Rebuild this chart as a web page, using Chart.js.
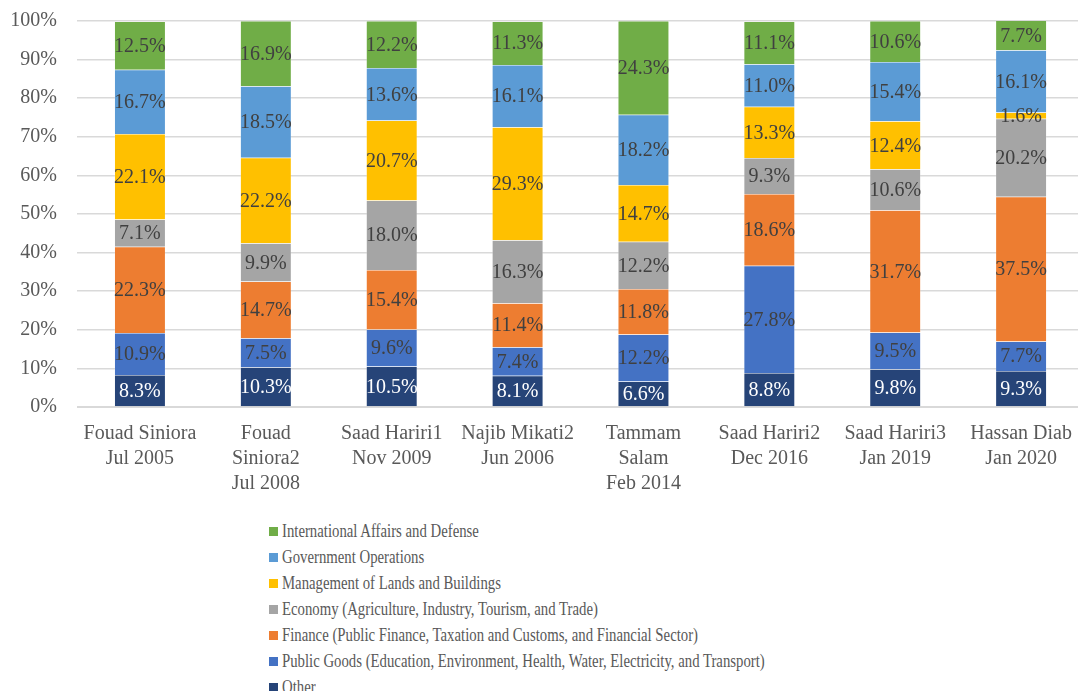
<!DOCTYPE html>
<html>
<head>
<meta charset="utf-8">
<script src="https://cdn.jsdelivr.net/npm/chart.js@4.4.0/dist/chart.umd.min.js"></script>
<style>
  body { margin: 0; background: #fff; overflow: hidden; }
  #wrap { position: relative; width: 1086px; height: 500px; margin-top: -11px; }
  #legend {
    position: absolute; left: 269px; top: 518px;
    font-family: "Liberation Serif", "Times New Roman", serif;
    color: #595959; font-size: 18px;
  }
  #legend .row { height: 26px; display: flex; align-items: center; white-space: nowrap; }
  #legend .box { width: 9px; height: 9px; margin-right: 4px; flex: none; }
  #legend .txt { display: inline-block; transform: scaleX(0.82); transform-origin: left center; }
</style>
</head>
<body>
<div id="wrap"><canvas id="chart" width="1086" height="500"></canvas></div>
<div id="legend"></div>
<script>
const categories = [
  ["Fouad Siniora", "Jul 2005"],
  ["Fouad", "Siniora2", "Jul 2008"],
  ["Saad Hariri1", "Nov 2009"],
  ["Najib Mikati2", "Jun 2006"],
  ["Tammam", "Salam", "Feb 2014"],
  ["Saad Hariri2", "Dec 2016"],
  ["Saad Hariri3", "Jan 2019"],
  ["Hassan Diab", "Jan 2020"]
];

// shares per cabinet, bottom of the stack first
const other         = [8.3, 10.3, 10.5, 8.1, 6.6, 8.8, 9.8, 9.3];
const publicGoods   = [10.9, 7.5, 9.6, 7.4, 12.2, 27.8, 9.5, 7.7];
const finance       = [22.3, 14.7, 15.4, 11.4, 11.8, 18.6, 31.7, 37.5];
const economy       = [7.1, 9.9, 18.0, 16.3, 12.2, 9.3, 10.6, 20.2];
const landsBuildings = [22.1, 22.2, 20.7, 29.3, 14.7, 13.3, 12.4, 1.6];
const govOperations = [16.7, 18.5, 13.6, 16.1, 18.2, 11.0, 15.4, 16.1];
const intlAffairs   = [12.5, 16.9, 12.2, 11.3, 24.3, 11.1, 10.6, 7.7];

const yTicks = [0, 10, 20, 30, 40, 50, 60, 70, 80, 90, 100];

const FONT = '"Liberation Serif", "Times New Roman", serif';

const series = [
  { label: "Other", data: other, color: "#264478", text: "#ffffff" },
  { label: "Public Goods (Education, Environment, Health, Water, Electricity, and Transport)", data: publicGoods, color: "#4472C4", text: "#404040" },
  { label: "Finance (Public Finance, Taxation and Customs, and Financial Sector)", data: finance, color: "#ED7D31", text: "#404040" },
  { label: "Economy (Agriculture, Industry, Tourism, and Trade)", data: economy, color: "#A5A5A5", text: "#404040" },
  { label: "Management of Lands and Buildings", data: landsBuildings, color: "#FFC000", text: "#404040" },
  { label: "Government Operations", data: govOperations, color: "#5B9BD5", text: "#404040" },
  { label: "International Affairs and Defense", data: intlAffairs, color: "#70AD47", text: "#404040" }
];

// value labels centred in each segment
const segmentLabels = {
  id: "segmentLabels",
  afterDatasetsDraw(chart) {
    const ctx = chart.ctx;
    ctx.save();
    ctx.font = "20px " + FONT;
    ctx.textAlign = "center";
    ctx.textBaseline = "middle";
    chart.data.datasets.forEach((ds, i) => {
      chart.getDatasetMeta(i).data.forEach((bar, j) => {
        const y = (bar.y + bar.base) / 2;
        ctx.fillStyle = ds.labelColor;
        ctx.fillText(ds.data[j].toFixed(1) + "%", bar.x, y + 1);
      });
    });
    ctx.restore();
  }
};

const chart = new Chart(document.getElementById("chart"), {
  type: "bar",
  data: {
    labels: categories,
    datasets: series.map(s => ({
      label: s.label,
      data: s.data,
      backgroundColor: s.color,
      borderColor: "rgba(255,255,255,0.5)",
      borderWidth: 0.5,
      labelColor: s.text,
      barPercentage: 0.405,
      categoryPercentage: 1
    }))
  },
  options: {
    responsive: false,
    animation: false,
    layout: { padding: { top: 0, right: 1, left: 0, bottom: 0 } },
    plugins: { legend: { display: false }, tooltip: { enabled: false } },
    scales: {
      x: {
        stacked: true,
        grid: { display: false, drawTicks: false },
        border: { color: "#d9d9d9", width: 1 },
        ticks: {
          color: "#595959",
          font: { family: FONT, size: 20, lineHeight: 1.25 },
          padding: 14,
          maxRotation: 0,
          autoSkip: false
        },
        afterFit(scale) { scale.height = 82; }
      },
      y: {
        stacked: true,
        min: 0,
        max: 100,
        afterBuildTicks(scale) { scale.ticks = yTicks.map(v => ({ value: v })); },
        grid: { color: "#d9d9d9", lineWidth: 1.5, drawTicks: false },
        border: { display: false },
        ticks: {
          color: "#595959",
          font: { family: FONT, size: 20 },
          padding: 20,
          callback: v => v + "%"
        },
        afterFit(scale) { scale.width = 77; }
      }
    }
  },
  plugins: [segmentLabels]
});

// vertical legend, top series first
const legend = document.getElementById("legend");
series.slice().reverse().forEach(s => {
  const row = document.createElement("div");
  row.className = "row";
  row.innerHTML = '<span class="box" style="background:' + s.color + '"></span><span class="txt">' + s.label + "</span>";
  legend.appendChild(row);
});
</script>
</body>
</html>
